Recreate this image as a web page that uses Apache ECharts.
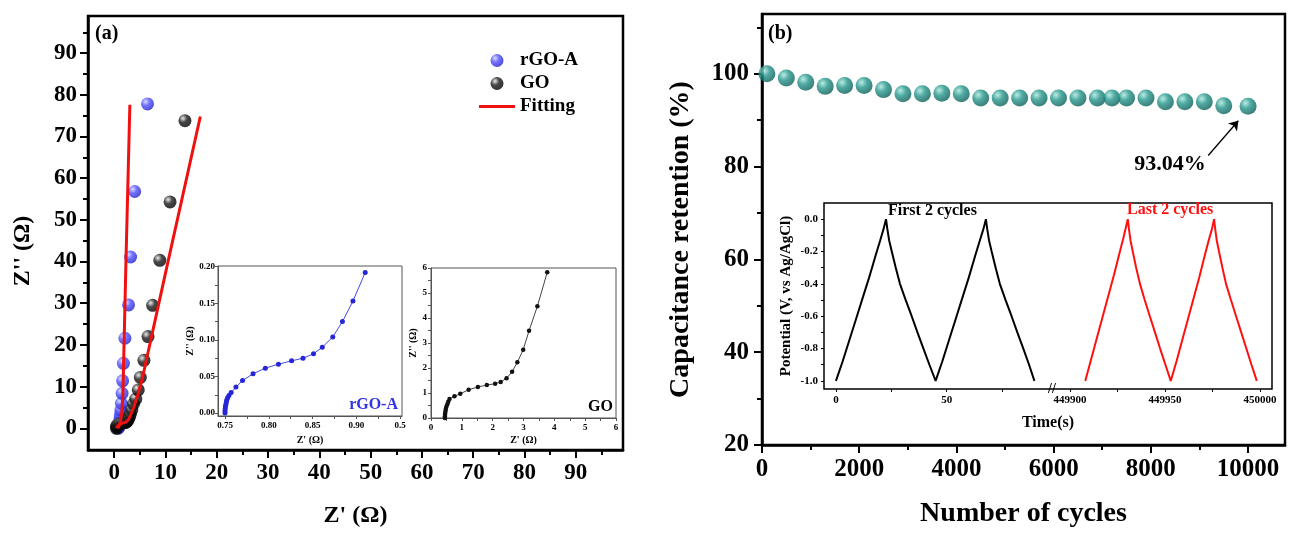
<!DOCTYPE html>
<html>
<head>
<meta charset="utf-8">
<title>Nyquist plots and cycling stability</title>
<script src="https://cdn.jsdelivr.net/npm/echarts@6.0.0/dist/echarts.min.js"></script>
<style>
  html, body { margin: 0; padding: 0; background: #fff; }
  #chart { width: 1290px; height: 533px; }
</style>
</head>
<body>
<div id="chart"></div>
<script>
// (a) Nyquist plots, points are [Z', Z''] in ohm
const rgoMain = [[0.75, 0.0], [0.91, 0.19], [0.98, 0.6], [1.04, 1.2], [1.1, 1.9], [1.18, 2.7], [1.25, 3.5],
  [1.32, 4.4], [1.42, 6.0], [1.55, 8.4], [1.65, 11.4], [1.8, 15.6], [2.1, 21.6], [2.8, 29.6], [3.2, 41.1],
  [4.0, 56.8], [6.5, 77.8]];
const goMain = [[0.45, 0.0], [0.47, 0.3], [0.52, 0.5], [0.6, 0.76], [0.76, 0.87], [0.95, 0.97], [1.22, 1.13],
  [1.52, 1.24], [1.81, 1.32], [2.08, 1.37], [2.26, 1.44], [2.45, 1.59], [2.63, 1.85], [2.8, 2.23], [2.99, 2.73],
  [3.18, 3.49], [3.45, 4.47], [3.77, 5.83], [4.2, 7.0], [4.7, 9.2], [5.1, 12.2], [5.8, 16.3], [6.6, 22.0],
  [7.5, 29.5], [8.9, 40.3], [10.9, 54.3], [13.8, 73.8]];
const rgoFit = [[0.75, 0.0], [0.8, 0.05], [0.95, 0.35], [1.1, 1.0], [1.3, 2.2], [1.5, 4.0], [1.7, 8.0],
  [2.3, 40.0], [3.06, 77.6]];
const goFit = [[0.45, 0.0], [0.6, 0.5], [0.9, 0.9], [1.5, 1.2], [2.3, 1.5], [2.8, 2.1], [3.2, 3.2], [3.8, 5.0],
  [4.6, 8.0], [5.5, 12.0], [10.5, 40.0], [16.8, 74.8]];
const rgoInset = [[0.75, 0.0], [0.75, 0.003], [0.7502, 0.006], [0.7505, 0.009], [0.751, 0.012], [0.7515, 0.015],
  [0.752, 0.018], [0.753, 0.021], [0.7545, 0.024], [0.757, 0.028], [0.7625, 0.0355], [0.77, 0.0445],
  [0.782, 0.0536], [0.796, 0.0614], [0.811, 0.0668], [0.826, 0.0714], [0.839, 0.075], [0.851, 0.081],
  [0.861, 0.09], [0.873, 0.104], [0.884, 0.125], [0.896, 0.153], [0.91, 0.192]];
const goInset = [[0.45, 0.0], [0.45, 0.06], [0.455, 0.13], [0.46, 0.2], [0.47, 0.28], [0.48, 0.36], [0.5, 0.45],
  [0.53, 0.55], [0.56, 0.65], [0.6, 0.76], [0.76, 0.87], [0.95, 0.97], [1.22, 1.13], [1.52, 1.24], [1.81, 1.32],
  [2.08, 1.37], [2.26, 1.44], [2.45, 1.59], [2.63, 1.85], [2.8, 2.23], [2.99, 2.73], [3.18, 3.49], [3.45, 4.47],
  [3.77, 5.83]];

// (b) cycling stability
const cycles = [100, 500, 900, 1300, 1700, 2100, 2500, 2900, 3300, 3700, 4100, 4500, 4900, 5300, 5700, 6100,
  6500, 6900, 7200, 7500, 7900, 8300, 8700, 9100, 9500, 10000];
const retention = [100.0, 99.1, 98.2, 97.3, 97.5, 97.5, 96.6, 95.7, 95.7, 95.8, 95.7, 94.8, 94.8, 94.8, 94.8,
  94.8, 94.8, 94.8, 94.8, 94.8, 94.8, 94.0, 94.0, 94.0, 93.1, 93.04];
// inset: [time (s), potential (V)]
const gcdFirst = [[0, -1.0], [3, -0.88], [6, -0.75], [9, -0.62], [12, -0.49], [15, -0.36], [18, -0.22],
  [20, -0.13], [21.5, -0.06], [22.6, 0.0], [23.2, -0.06], [24, -0.13], [25.2, -0.2], [27, -0.3], [28.9, -0.4],
  [31.5, -0.5], [34.2, -0.6], [36.8, -0.7], [39.5, -0.8], [42.2, -0.9], [45, -1.0], [48, -0.88], [51, -0.75],
  [54, -0.62], [57, -0.49], [60, -0.36], [63, -0.22], [65, -0.13], [66.6, -0.06], [67.7, 0.0], [68.3, -0.06],
  [69.1, -0.13], [70.3, -0.2], [72.1, -0.3], [74, -0.4], [76.6, -0.5], [79.3, -0.6], [81.9, -0.7], [84.6, -0.8],
  [87.2, -0.9], [89.6, -1.0]];
const gcdLast = [[449908, -1.0], [449911, -0.87], [449914, -0.74], [449917, -0.61], [449920, -0.48],
  [449923, -0.35], [449926, -0.21], [449928, -0.12], [449929.4, -0.05], [449930.4, 0.0], [449931, -0.06],
  [449931.8, -0.13], [449933, -0.2], [449934.8, -0.3], [449936.8, -0.4], [449939.3, -0.5], [449942, -0.6],
  [449944.7, -0.7], [449947.4, -0.8], [449950.2, -0.9], [449953, -1.0], [449956, -0.88], [449959, -0.75],
  [449962, -0.62], [449965, -0.49], [449968, -0.36], [449971, -0.22], [449973, -0.13], [449974.7, -0.06],
  [449975.8, 0.0], [449976.4, -0.06], [449977.2, -0.13], [449978.4, -0.2], [449980.2, -0.3], [449982.1, -0.4],
  [449984.7, -0.5], [449987.4, -0.6], [449990.1, -0.7], [449992.8, -0.8], [449995.5, -0.9], [449998.3, -1.0]];

// tick values
const aTicks = [0, 10, 20, 30, 40, 50, 60, 70, 80, 90];
const aMinor = [5, 15, 25, 35, 45, 55, 65, 75, 85, 95];
const rgoXTicks = [0.75, 0.775, 0.8, 0.825, 0.85, 0.875, 0.9, 0.925, 0.95];
const rgoXLabels = { '0.75': '0.75', '0.8': '0.80', '0.85': '0.85', '0.9': '0.90', '0.95': '0.5' };
const rgoYTicks = [0, 0.025, 0.05, 0.075, 0.1, 0.125, 0.15, 0.175, 0.2];
const goTicks = [0, 0.5, 1, 1.5, 2, 2.5, 3, 3.5, 4, 4.5, 5, 5.5, 6];
const goLabels = [0, 1, 2, 3, 4, 5, 6];
const bXTicks = [0, 2000, 4000, 6000, 8000, 10000];
const bXMinor = [1000, 3000, 5000, 7000, 9000];
const bYTicks = [20, 40, 60, 80, 100];
const bYMinor = [30, 50, 70, 90, 110];
const gcdYTicks = [0, -0.1, -0.2, -0.3, -0.4, -0.5, -0.6, -0.7, -0.8, -0.9, -1.0];
const gcdYLabels = [0, -0.2, -0.4, -0.6, -0.8, -1.0];
const firstTicks = [0, 25, 50, 75];
const firstLabels = [0, 50];
const lastTicks = [449900, 449925, 449950, 449975, 450000];
const lastLabels = [449900, 449950, 450000];

const FONT = '"Liberation Serif", "DejaVu Serif", serif';
function txt(size, extra) {
  return Object.assign({ fontFamily: FONT, fontWeight: 'bold', fontSize: size, color: '#000' }, extra || {});
}
function sphere(light, mid, dark) {
  return {
    type: 'radial', x: 0.35, y: 0.32, r: 0.7,
    colorStops: [{ offset: 0, color: light }, { offset: 0.45, color: mid }, { offset: 1, color: dark }]
  };
}

function bigAxis(grid, min, max, ticks, o) {
  return {
    type: 'value', gridIndex: grid, min: min, max: max, position: o.position,
    name: o.name, nameLocation: 'middle', nameGap: o.nameGap,
    nameTextStyle: txt(o.nameSize, { padding: o.namePad || 0 }),
    axisLine: { show: true, onZero: false, lineStyle: { color: '#000', width: 2.5 } },
    axisTick: { show: true, length: 8, customValues: ticks, lineStyle: { color: '#000', width: 2 } },
    axisLabel: txt(o.labelSize, { customValues: ticks, margin: o.margin, formatter: v => String(v) }),
    splitLine: { show: false }
  };
}
function minorAxis(grid, min, max, ticks, position) {
  return {
    type: 'value', gridIndex: grid, min: min, max: max, position: position,
    axisLine: { show: false, onZero: false },
    axisTick: { show: true, length: 5, customValues: ticks, lineStyle: { color: '#000', width: 2 } },
    axisLabel: { show: false },
    splitLine: { show: false }
  };
}
function insetAxis(grid, min, max, ticks, labels, o) {
  return {
    type: 'value', gridIndex: grid, min: min, max: max, show: o.show !== false,
    name: o.name, nameLocation: o.nameLocation || 'middle', nameGap: o.nameGap,
    nameTextStyle: txt(o.nameSize || 10),
    axisLine: { show: o.line !== false, onZero: false, lineStyle: { color: o.color || '#555', width: 1 } },
    axisTick: { show: true, length: 3, customValues: ticks, lineStyle: { color: o.color || '#555', width: 1 } },
    axisLabel: txt(o.labelSize || 9, { customValues: labels, margin: o.margin, formatter: o.fmt }),
    splitLine: { show: false }
  };
}
function hiddenAxis(grid, name, nameGap, nameSize) {
  return {
    type: 'value', gridIndex: grid, min: 0, max: 1,
    name: name, nameLocation: 'middle', nameGap: nameGap, nameTextStyle: txt(nameSize),
    axisLine: { show: false, onZero: false }, axisTick: { show: false },
    axisLabel: { show: false }, splitLine: { show: false }
  };
}

const chart = echarts.init(document.getElementById('chart'));
const blueBall = sphere('#d0d0ff', '#4f4fff', '#2323c8');
const blackBall = sphere('#e6e6e6', '#1a1a1a', '#000');
const tealBall = sphere('#a8e6dc', '#23958b', '#0c5f58');
const lastRetention = retention[retention.length - 1];

chart.setOption({
  animation: false,
  backgroundColor: '#fff',
  grid: [
    { left: 88, top: 16, width: 535, height: 435, show: true, borderColor: '#000', borderWidth: 2.5 },
    { left: 218, top: 266, width: 184, height: 150, show: true, borderColor: '#555', borderWidth: 1 },
    { left: 431, top: 268, width: 185, height: 150, show: true, borderColor: '#555', borderWidth: 1 },
    { left: 762, top: 14, width: 523, height: 435, show: true, borderColor: '#000', borderWidth: 2.5 },
    { left: 824, top: 203, width: 448, height: 186, show: true, borderColor: '#000', borderWidth: 1.5 },
    { left: 824, top: 203, width: 227, height: 186 },
    { left: 1056, top: 203, width: 216, height: 186 }
  ],
  xAxis: [
    bigAxis(0, -5.1, 99.2, aTicks, { position: 'bottom', name: "Z' (Ω)", nameGap: 54, nameSize: 24, labelSize: 23, margin: 12 }),
    minorAxis(0, -5.1, 99.2, aMinor, 'bottom'),
    insetAxis(1, 0.742, 0.952, rgoXTicks, [0.75, 0.8, 0.85, 0.9, 0.95],
      { name: "Z' (Ω)", nameGap: 19, margin: 5, fmt: v => rgoXLabels[String(v)] }),
    insetAxis(2, 0, 6, goTicks, goLabels, { name: "Z' (Ω)", nameGap: 17, margin: 5, fmt: v => String(v) }),
    bigAxis(3, 0, 10760, bXTicks, { position: 'bottom', name: 'Number of cycles', nameGap: 55, nameSize: 28, labelSize: 25, margin: 12 }),
    minorAxis(3, 0, 10760, bXMinor, 'bottom'),
    hiddenAxis(4, 'Time(s)', 26, 16),
    insetAxis(5, -5.4, 97.1, firstTicks, firstLabels,
      { line: false, color: '#000', labelSize: 11, margin: 6, fmt: v => String(v),
        name: '//', nameLocation: 'end', nameGap: -3, nameSize: 14 }),
    insetAxis(6, 449892.6, 450006.3, lastTicks, lastLabels,
      { line: false, color: '#000', labelSize: 11, margin: 6, fmt: v => String(v) })
  ],
  yAxis: [
    bigAxis(0, -5.2, 98.9, aTicks, { position: 'left', name: "Z'' (Ω)", nameGap: 53, nameSize: 24, labelSize: 23, margin: 11, namePad: [0, 36, 0, 0] }),
    minorAxis(0, -5.2, 98.9, aMinor, 'left'),
    insetAxis(1, -0.004, 0.201, rgoYTicks, [0, 0.05, 0.1, 0.15, 0.2],
      { name: "Z'' (Ω)", nameGap: 22, margin: 3, fmt: v => v.toFixed(2) }),
    insetAxis(2, 0, 6, goTicks, goLabels, { name: "Z'' (Ω)", nameGap: 11, margin: 4, fmt: v => String(v) }),
    bigAxis(3, 20, 112.9, bYTicks, { position: 'left', name: 'Capacitance retention (%)', nameGap: 67, nameSize: 28, labelSize: 25, margin: 13, namePad: [0, 20, 0, 0] }),
    minorAxis(3, 20, 112.9, bYMinor, 'left'),
    hiddenAxis(4, 'Potential (V, vs Ag/AgCl)', 30, 15),
    insetAxis(5, -1.05, 0.1, gcdYTicks, gcdYLabels,
      { line: false, color: '#000', labelSize: 11, margin: 6, fmt: v => v.toFixed(1) }),
    insetAxis(6, -1.05, 0.1, gcdYTicks, gcdYLabels, { show: false, fmt: v => v.toFixed(1) })
  ],
  legend: {
    orient: 'vertical', left: 474, top: 46, itemWidth: 36, itemHeight: 13, itemGap: 4,
    textStyle: txt(19), selectedMode: false,
    data: ['rGO-A', 'GO', { name: 'Fitting', icon: 'path://M0,0H36V3H0Z' }]
  },
  series: [
    { name: 'rGO-A', type: 'scatter', xAxisIndex: 0, yAxisIndex: 0, data: rgoMain, symbolSize: 13,
      itemStyle: { color: blueBall }, z: 3 },
    { name: 'GO', type: 'scatter', xAxisIndex: 0, yAxisIndex: 0, data: goMain, symbolSize: 13,
      itemStyle: { color: blackBall }, z: 4 },
    { name: 'Fitting', type: 'line', xAxisIndex: 0, yAxisIndex: 0, data: rgoFit, symbol: 'none',
      lineStyle: { color: '#f01010', width: 3 }, itemStyle: { color: '#f01010' }, z: 5 },
    { name: 'Fitting', type: 'line', xAxisIndex: 0, yAxisIndex: 0, data: goFit, symbol: 'none',
      lineStyle: { color: '#f01010', width: 3 }, itemStyle: { color: '#f01010' }, z: 5 },
    { name: 'rGO-A inset', type: 'line', xAxisIndex: 2, yAxisIndex: 2, data: rgoInset, symbol: 'circle',
      symbolSize: 5, lineStyle: { color: '#4848e8', width: 1 }, itemStyle: { color: '#2626d6' } },
    { name: 'GO inset', type: 'line', xAxisIndex: 3, yAxisIndex: 3, data: goInset, symbol: 'circle',
      symbolSize: 4.5, lineStyle: { color: '#444', width: 1 }, itemStyle: { color: '#111' } },
    { name: 'Retention', type: 'scatter', xAxisIndex: 4, yAxisIndex: 4,
      data: cycles.map((c, i) => [c, retention[i]]), symbolSize: 17, itemStyle: { color: tealBall },
      markLine: {
        silent: true, symbol: ['none', 'arrow'], symbolSize: 9, animation: false,
        lineStyle: { color: '#000', width: 1.3, type: 'solid' }, label: { show: false },
        data: [[{ coord: [9180, 82.4] }, { coord: [9800, 89.9] }]]
      },
      markPoint: {
        silent: true, symbol: 'circle', symbolSize: 1, itemStyle: { color: 'rgba(0,0,0,0)' },
        label: txt(22, { show: true, position: 'inside', formatter: lastRetention.toFixed(2) + '%' }),
        data: [{ coord: [8395, 80.6] }]
      } },
    { name: 'First 2 cycles', type: 'line', xAxisIndex: 7, yAxisIndex: 7, data: gcdFirst, symbol: 'none',
      lineStyle: { color: '#000', width: 2 } },
    { name: 'Last 2 cycles', type: 'line', xAxisIndex: 8, yAxisIndex: 8, data: gcdLast, symbol: 'none',
      lineStyle: { color: '#ff1010', width: 2 } }
  ],
  graphic: [
    { type: 'text', left: 95, top: 24, style: txt(20, { text: '(a)' }) },
    { type: 'text', left: 768, top: 24, style: txt(20, { text: '(b)' }) },
    { type: 'text', right: 1290 - 398, top: 397, style: txt(16, { text: 'rGO-A', fill: '#3232e0' }) },
    { type: 'text', right: 1290 - 613, top: 399, style: txt(16, { text: 'GO' }) },
    { type: 'text', left: 888, top: 203, style: txt(16, { text: 'First 2 cycles' }) },
    { type: 'text', left: 1127, top: 202, style: txt(16, { text: 'Last 2 cycles', fill: '#ff1010' }) }
  ]
});
</script>
</body>
</html>
